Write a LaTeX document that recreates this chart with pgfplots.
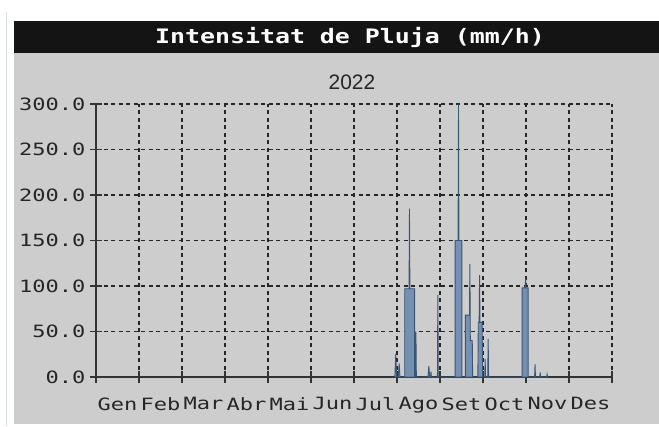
\documentclass[border=0pt]{standalone}
\usepackage{pgfplots}
\pgfplotsset{compat=1.18}
\usepackage{fontspec}
\setmainfont{Liberation Sans}
\newfontfamily\tickfont[FakeStretch=1.3]{DejaVu Sans Mono}
\newfontfamily\titlefont[FakeStretch=1.25]{DejaVu Sans Mono Bold}
\definecolor{bggray}{HTML}{CDCDCD}
\definecolor{barfill}{HTML}{7590B0}
\definecolor{bardraw}{HTML}{3B5575}
\definecolor{txt}{HTML}{262626}
\begin{document}
\begin{tikzpicture}[x=1bp,y=1bp]
\useasboundingbox (0,0) rectangle (659,426);
\fill[white] (0,0) rectangle (659,426);
\draw[color={rgb,255:red,215;green,222;blue,230}, line width=1bp] (6,0) -- (6,414);
\fill[bggray] (14,2) rectangle (659,373);
\fill[black!92] (14,373) rectangle (659,405);
\node[text=white, font=\titlefont\fontsize{20}{20}\selectfont] at (350,389) {Intensitat de Pluja (mm/h)};
\node[text=txt, font=\fontsize{21}{21}\selectfont] at (352,344) {2022};
\begin{axis}[
  at={(96bp,49bp)}, anchor=south west,
  width=516bp, height=273bp, scale only axis,
  xmin=0, xmax=12, ymin=0, ymax=300,
  axis x line*=bottom, axis y line*=left,
  axis line style={line width=1.4bp, black!80, -},
  xtick={0,1,...,12},
  x tick label as interval,
  xticklabels={Gen,Feb,Mar,Abr,Mai,Jun,Jul,Ago,Set,Oct,Nov,Des},
  ytick={0,50,...,300},
  yticklabels={0.0,50.0,100.0,150.0,200.0,250.0,300.0},
  tick align=center, major tick length=12bp,
  major tick style={line width=1.3bp, black!80},
  grid=major,
  major grid style={dash pattern=on 4bp off 3.5bp, line width=1.4bp, black!85},
  tick label style={font=\tickfont\fontsize{17}{17}\selectfont, text=txt},
  xticklabel style={yshift=-11bp},
  yticklabel style={xshift=-1bp},
]
\addplot[fill=barfill, draw=bardraw, line width=0.9bp] coordinates {
(6.95,0)(6.97,25)(6.99,0)(7.03,0)(7.05,15)(7.07,0)
(7.18,0)(7.18,97)(7.28,97)(7.29,185)(7.30,97)(7.41,97)(7.41,0)
(7.43,0)(7.44,50)(7.45,0)
(7.72,0)(7.74,12)(7.76,0)(7.78,0)(7.79,6)(7.80,0)
(7.94,0)(7.95,90)(7.96,0)
(8.35,0)(8.35,150)(8.42,150)(8.43,300)(8.44,150)(8.51,150)(8.51,0)
(8.59,0)(8.59,68)(8.685,68)(8.695,124)(8.705,40)(8.75,40)(8.76,0)
(8.88,0)(8.89,60)(8.91,60)(8.92,112)(8.93,60)(8.98,60)(8.99,0)
(9.04,0)(9.05,20)(9.06,0)(9.11,0)(9.12,42)(9.13,0)
(9.91,0)(9.91,98)(9.98,98)(9.99,108)(10.0,98)(10.05,98)(10.05,0)
(10.20,0)(10.21,14)(10.22,0)
(10.32,0)(10.33,5)(10.34,0)
(10.48,0)(10.49,3)(10.50,0)
} \closedcycle;
\end{axis}
\end{tikzpicture}
\end{document}
